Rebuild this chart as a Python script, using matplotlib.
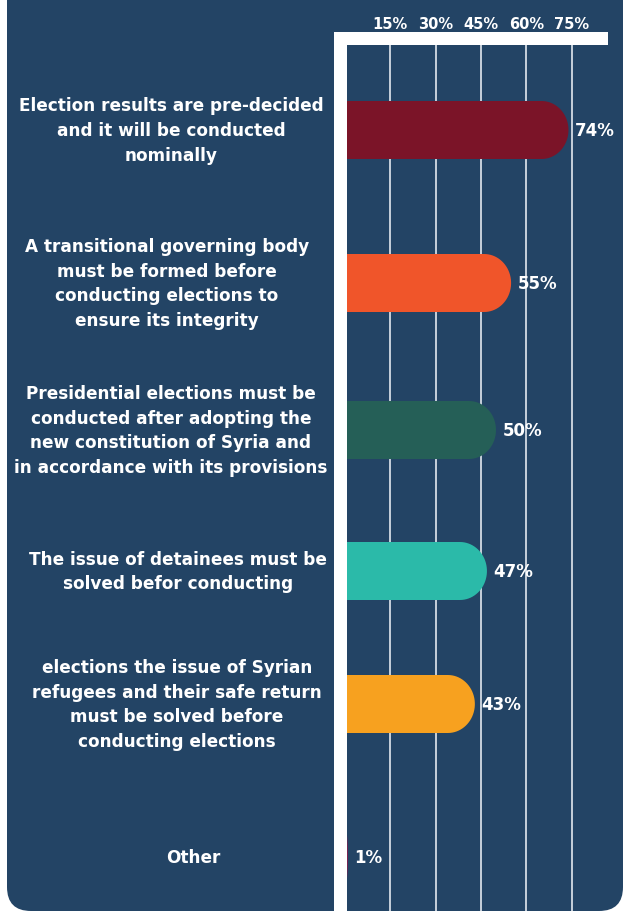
import matplotlib.pyplot as plt
import numpy as np
from matplotlib.patches import FancyBboxPatch, Polygon

plt.rcParams['font.family'] = ['DejaVu Sans']

labels = ['Election results are pre-decided\nand it will be conducted\nnominally',
          'A transitional governing body\nmust be formed before\nconducting elections to\nensure its integrity',
          'Presidential elections must be\nconducted after adopting the\nnew constitution of Syria and\nin accordance with its provisions',
          'The issue of detainees must be\nsolved befor conducting',
          'elections the issue of Syrian\nrefugees and their safe return\nmust be solved before\nconducting elections',
          'Other']
values = [74, 55, 50, 47, 43, 1]
colors = ['#7b1428', '#f0552a', '#255f57', '#2bbaa9', '#f7a11f', '#7a2150']
ticks = [15, 30, 45, 60, 75]

# layout (pixel units, y measured from the top)
W, H = 623, 912
row_y = [131, 284, 431, 572, 705, 858]
label_x = [171, 167, 171, 178, 177, 193]
bar_h = 58
corner = 27
zero_px, ppu = 345, 3.02      # zero line and pixels per percent
left_px, top_px, right_px = 339.5, 38.5, 600.5
bg = '#234465'

fig = plt.figure(figsize=(W / 100, H / 100), dpi=100, facecolor='white')

# panel background with rounded lower corners
bax = fig.add_axes([0, 0, 1, 1])
bax.set_xlim(0, W)
bax.set_ylim(H, 0)
bax.axis('off')
bax.add_patch(FancyBboxPatch((7, -60), W - 7, H + 60,
                             boxstyle='round,pad=0,rounding_size=24',
                             fc=bg, ec='none'))
for lab, lx, ry in zip(labels, label_x, row_y):
    bax.text(lx, ry, lab, ha='center', va='center', multialignment='center',
             color='white', fontsize=12.2, fontweight='bold', linespacing=1.47)

ax = fig.add_axes([left_px / W, 0, (right_px - left_px) / W, 1 - top_px / H])
ax.patch.set_alpha(0)
ax.set_xlim((left_px - zero_px) / ppu, (right_px - zero_px) / ppu)
ax.set_ylim(H, top_px)

rx = corner / ppu
for v, yc, c in zip(values, row_y, colors):
    r = min(rx, v)
    t = np.linspace(np.pi / 2, -np.pi / 2, 40)
    y_top, y_bot = yc - bar_h / 2, yc + bar_h / 2
    arc = np.column_stack([v - r + r * np.cos(t), yc - (bar_h / 2) * np.sin(t)])
    pts = np.vstack([[0, y_top], arc, [0, y_bot]])
    ax.add_patch(Polygon(pts, closed=True, fc=c, ec='none', zorder=2))
    ax.annotate(f'{v}%', (v, yc), xytext=(4.5, 0), textcoords='offset points',
                ha='left', va='center', color='white', fontsize=12,
                fontweight='bold', zorder=4)

for t in ticks:
    ax.axvline(t, color='#e3e8ee', lw=1.2, zorder=1)

ax.set_xticks(ticks)
ax.set_xticklabels([f'{t}%' for t in ticks])
ax.set_yticks([])
ax.xaxis.tick_top()
ax.tick_params(axis='x', length=0, pad=5, labelsize=10.5, labelcolor='white')
for lab in ax.get_xticklabels():
    lab.set_fontweight('bold')

for s in ['right', 'bottom']:
    ax.spines[s].set_visible(False)
for s in ['left', 'top']:
    ax.spines[s].set_color('white')
    ax.spines[s].set_linewidth(13 * 72 / 100)
    ax.spines[s].set_zorder(3)

plt.savefig('out.png', dpi=100, facecolor='white')
